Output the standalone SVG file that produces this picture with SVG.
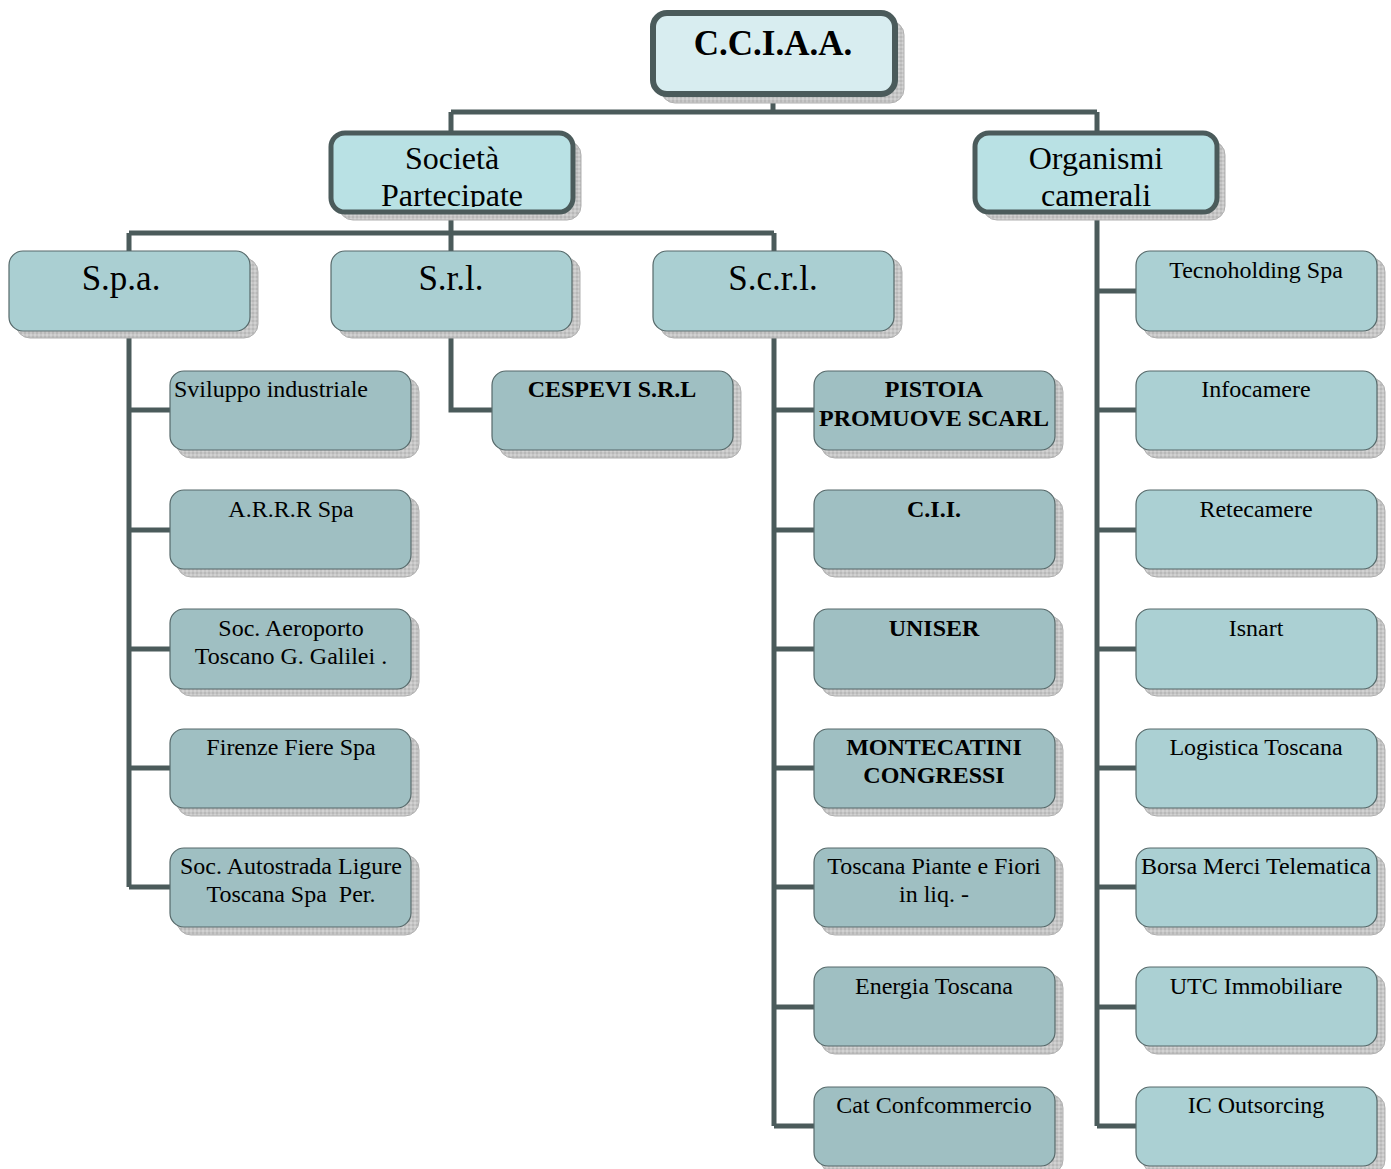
<svg xmlns="http://www.w3.org/2000/svg" width="1391" height="1169" viewBox="0 0 1391 1169">
<defs>
<pattern id="hatch" width="4" height="4" patternUnits="userSpaceOnUse">
<rect width="4" height="4" fill="#c6c6c6"/>
<rect width="2" height="2" fill="#b8b8b8"/>
<rect x="2" y="2" width="2" height="2" fill="#d2d2d2"/>
</pattern>
<clipPath id="clipSP"><rect x="334" y="136" width="237" height="71"/></clipPath>
<clipPath id="clipOC"><rect x="978" y="136" width="237" height="71"/></clipPath>
</defs>
<style>
.sh{fill:url(#hatch);stroke:#b0b0b0;stroke-width:1}
.top{fill:#d8edf0;stroke:#4b5b5b;stroke-width:6}
.l2{fill:#b9e1e4;stroke:#4b5b5b;stroke-width:5}
.l3{fill:#aacfd2;stroke:#56696a;stroke-width:1.2}
.lf{fill:#9fbfc2;stroke:#56696a;stroke-width:1.2}
.lr{fill:#abd0d3;stroke:#56696a;stroke-width:1.2}
.c{fill:none;stroke:#4b5b5b;stroke-width:5}
text{font-family:"Liberation Serif","Times New Roman",serif;fill:#000}
.t{font-size:24px;text-anchor:middle}
.b{font-weight:bold}
.big{font-size:35px;text-anchor:middle}
.l2t{font-size:32px;text-anchor:middle}
</style>
<g id="connectors">
<path class="c" d="M773 95V112M451 112H1097M451 112V133M1097 112V133"/>
<path class="c" d="M451 213V233M129 233H774M129 233V251M451 233V251M774 233V251"/>
<path class="c" d="M129 331V887M129 410H170M129 530H170M129 649H170M129 768H170M129 887H170"/>
<path class="c" d="M451 331V410H492"/>
<path class="c" d="M774 331V1126M774 410H814M774 530H814M774 649H814M774 768H814M774 887H814M774 1007H814M774 1126H814"/>
<path class="c" d="M1097 213V1126M1097 291H1136M1097 410H1136M1097 530H1136M1097 649H1136M1097 768H1136M1097 887H1136M1097 1007H1136M1097 1126H1136"/>
</g>
<g id="cciaa">
<rect class="sh" x="661" y="21" width="243" height="82" rx="14"/>
<rect class="top" x="653" y="13" width="242" height="81" rx="14"/>
<text x="773" y="55" font-size="35" font-weight="bold" text-anchor="middle">C.C.I.A.A.</text>
</g>
<g id="societa">
<rect class="sh" x="339" y="141" width="242" height="79" rx="14"/>
<rect class="l2" x="331" y="133" width="242" height="79" rx="14"/>
<g clip-path="url(#clipSP)"><text class="l2t" x="452" y="169">Società</text><text class="l2t" x="452" y="206">Partecipate</text></g>
</g>
<g id="organismi">
<rect class="sh" x="983" y="141" width="242" height="79" rx="14"/>
<rect class="l2" x="975" y="133" width="242" height="79" rx="14"/>
<g clip-path="url(#clipOC)"><text class="l2t" x="1096" y="169">Organismi</text><text class="l2t" x="1096" y="206">camerali</text></g>
</g>
<g id="spa">
<rect class="sh" x="16" y="258" width="242" height="80" rx="14"/>
<rect class="l3" x="9" y="251" width="241" height="80" rx="14"/>
<text class="big" x="121" y="290">S.p.a.</text>
</g>
<g id="srl">
<rect class="sh" x="338" y="258" width="242" height="80" rx="14"/>
<rect class="l3" x="331" y="251" width="241" height="80" rx="14"/>
<text class="big" x="451" y="290">S.r.l.</text>
</g>
<g id="scrl">
<rect class="sh" x="660" y="258" width="242" height="80" rx="14"/>
<rect class="l3" x="653" y="251" width="241" height="80" rx="14"/>
<text class="big" x="773" y="290">S.c.r.l.</text>
</g>
<!-- S.p.a. leaves -->
<g id="sviluppo"><rect class="sh" x="177" y="378" width="242" height="80" rx="14"/><rect class="lf" x="170" y="371" width="241" height="79" rx="14"/><text x="174" y="397" font-size="24">Sviluppo industriale</text></g>
<g id="arrr"><rect class="sh" x="177" y="497" width="242" height="80" rx="14"/><rect class="lf" x="170" y="490" width="241" height="79" rx="14"/><text class="t" x="291" y="517">A.R.R.R Spa</text></g>
<g id="aeroporto"><rect class="sh" x="177" y="616" width="242" height="80" rx="14"/><rect class="lf" x="170" y="609" width="241" height="80" rx="14"/><text class="t" x="291" y="636">Soc. Aeroporto</text><text class="t" x="291" y="664">Toscano G. Galilei .</text></g>
<g id="firenzefiere"><rect class="sh" x="177" y="736" width="242" height="80" rx="14"/><rect class="lf" x="170" y="729" width="241" height="79" rx="14"/><text class="t" x="291" y="755">Firenze Fiere Spa</text></g>
<g id="autostrada"><rect class="sh" x="177" y="855" width="242" height="80" rx="14"/><rect class="lf" x="170" y="848" width="241" height="79" rx="14"/><text class="t" x="291" y="874">Soc. Autostrada Ligure</text><text class="t" x="291" y="902" xml:space="preserve">Toscana Spa  Per.</text></g>
<!-- S.r.l. leaf -->
<g id="cespevi"><rect class="sh" x="499" y="378" width="242" height="80" rx="14"/><rect class="lf" x="492" y="371" width="241" height="79" rx="14"/><text class="t b" x="612" y="397">CESPEVI S.R.L</text></g>
<!-- S.c.r.l. leaves -->
<g id="pistoia"><rect class="sh" x="821" y="378" width="242" height="80" rx="14"/><rect class="lf" x="814" y="371" width="241" height="79" rx="14"/><text class="t b" x="934" y="397">PISTOIA</text><text class="t b" x="934" y="426">PROMUOVE SCARL</text></g>
<g id="cii"><rect class="sh" x="821" y="497" width="242" height="80" rx="14"/><rect class="lf" x="814" y="490" width="241" height="79" rx="14"/><text class="t b" x="934" y="517">C.I.I.</text></g>
<g id="uniser"><rect class="sh" x="821" y="616" width="242" height="80" rx="14"/><rect class="lf" x="814" y="609" width="241" height="80" rx="14"/><text class="t b" x="934" y="636">UNISER</text></g>
<g id="montecatini"><rect class="sh" x="821" y="736" width="242" height="80" rx="14"/><rect class="lf" x="814" y="729" width="241" height="79" rx="14"/><text class="t b" x="934" y="755">MONTECATINI</text><text class="t b" x="934" y="783">CONGRESSI</text></g>
<g id="toscanapiante"><rect class="sh" x="821" y="855" width="242" height="80" rx="14"/><rect class="lf" x="814" y="848" width="241" height="79" rx="14"/><text class="t" x="934" y="874">Toscana Piante e Fiori</text><text class="t" x="934" y="902">in liq. -</text></g>
<g id="energia"><rect class="sh" x="821" y="974" width="242" height="80" rx="14"/><rect class="lf" x="814" y="967" width="241" height="79" rx="14"/><text class="t" x="934" y="994">Energia Toscana</text></g>
<g id="cat"><rect class="sh" x="821" y="1094" width="242" height="80" rx="14"/><rect class="lf" x="814" y="1087" width="241" height="79" rx="14"/><text class="t" x="934" y="1113">Cat Confcommercio</text></g>
<!-- Organismi leaves -->
<g id="tecnoholding"><rect class="sh" x="1143" y="258" width="242" height="80" rx="14"/><rect class="lr" x="1136" y="251" width="241" height="80" rx="14"/><text class="t" x="1256" y="278">Tecnoholding Spa</text></g>
<g id="infocamere"><rect class="sh" x="1143" y="378" width="242" height="80" rx="14"/><rect class="lr" x="1136" y="371" width="241" height="79" rx="14"/><text class="t" x="1256" y="397">Infocamere</text></g>
<g id="retecamere"><rect class="sh" x="1143" y="497" width="242" height="80" rx="14"/><rect class="lr" x="1136" y="490" width="241" height="79" rx="14"/><text class="t" x="1256" y="517">Retecamere</text></g>
<g id="isnart"><rect class="sh" x="1143" y="616" width="242" height="80" rx="14"/><rect class="lr" x="1136" y="609" width="241" height="80" rx="14"/><text class="t" x="1256" y="636">Isnart</text></g>
<g id="logistica"><rect class="sh" x="1143" y="736" width="242" height="80" rx="14"/><rect class="lr" x="1136" y="729" width="241" height="79" rx="14"/><text class="t" x="1256" y="755">Logistica Toscana</text></g>
<g id="borsamerci"><rect class="sh" x="1143" y="855" width="242" height="80" rx="14"/><rect class="lr" x="1136" y="848" width="241" height="79" rx="14"/><text class="t" x="1256" y="874">Borsa Merci Telematica</text></g>
<g id="utc"><rect class="sh" x="1143" y="974" width="242" height="80" rx="14"/><rect class="lr" x="1136" y="967" width="241" height="79" rx="14"/><text class="t" x="1256" y="994">UTC Immobiliare</text></g>
<g id="icoutsorcing"><rect class="sh" x="1143" y="1094" width="242" height="80" rx="14"/><rect class="lr" x="1136" y="1087" width="241" height="79" rx="14"/><text class="t" x="1256" y="1113">IC Outsorcing</text></g>
</svg>
